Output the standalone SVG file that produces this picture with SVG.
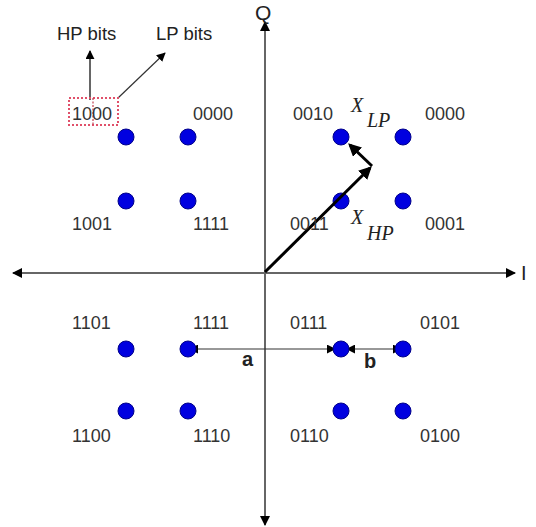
<svg xmlns="http://www.w3.org/2000/svg" width="536" height="527" viewBox="0 0 536 527">
<style>
.lbl{font-family:"Liberation Sans",Arial,sans-serif;font-size:18px;fill:#333}
.ttl{font-family:"Liberation Sans",Arial,sans-serif;font-size:18.5px;fill:#222}
.sym{font-family:"Liberation Serif","Times New Roman",serif;font-style:italic;font-size:20px;fill:#222}
.bold{font-family:"Liberation Sans",Arial,sans-serif;font-size:20px;font-weight:bold;fill:#222}
.dot{fill:#0000e0;stroke:#00008a;stroke-width:1}
.axis{stroke:#666;stroke-width:2;fill:none}
.thin{stroke:#333;stroke-width:1.2;fill:none}
.vec{stroke:#000;stroke-width:3;fill:none}
</style>
<defs>
<marker id="ah" viewBox="0 0 10 10" refX="9" refY="5" markerWidth="10" markerHeight="10" markerUnits="userSpaceOnUse" orient="auto-start-reverse"><path d="M0,0 L10,5 L0,10 z" fill="#000"/></marker>
<marker id="ahs" viewBox="0 0 10 10" refX="9" refY="5" markerWidth="9" markerHeight="9" markerUnits="userSpaceOnUse" orient="auto-start-reverse"><path d="M0,0 L10,5 L0,10 z" fill="#000"/></marker>
<marker id="ahv" viewBox="0 0 10 10" refX="8" refY="5" markerWidth="13" markerHeight="13" markerUnits="userSpaceOnUse" orient="auto"><path d="M0,0 L10,5 L0,10 z" fill="#000"/></marker>
</defs>
<rect width="536" height="527" fill="#fff"/>
<g id="connectors">
<line class="axis" x1="13" y1="273" x2="515" y2="273" marker-start="url(#ah)" marker-end="url(#ah)"/>
<line class="axis" x1="265" y1="22" x2="265" y2="525" marker-start="url(#ah)" marker-end="url(#ah)"/>
<line class="axis" x1="90" y1="100" x2="90" y2="51" marker-end="url(#ahs)"/>
<line class="thin" x1="118" y1="98" x2="165" y2="53" marker-end="url(#ahs)"/>
<line class="thin" x1="190" y1="349" x2="335" y2="349" marker-start="url(#ahs)" marker-end="url(#ahs)"/>
<line class="thin" x1="347" y1="349" x2="401" y2="349" marker-start="url(#ahs)" marker-end="url(#ahs)"/>
</g>
<g id="dots">
<circle class="dot" cx="126" cy="137" r="8"/><circle class="dot" cx="188" cy="137" r="8"/>
<circle class="dot" cx="341" cy="137" r="8"/><circle class="dot" cx="403" cy="137" r="8"/>
<circle class="dot" cx="126" cy="201" r="8"/><circle class="dot" cx="188" cy="201" r="8"/>
<circle class="dot" cx="341" cy="201" r="8"/><circle class="dot" cx="403" cy="201" r="8"/>
<circle class="dot" cx="126" cy="349" r="8"/><circle class="dot" cx="188" cy="349" r="8"/>
<circle class="dot" cx="341" cy="349" r="8"/><circle class="dot" cx="403" cy="349" r="8"/>
<circle class="dot" cx="126" cy="411" r="8"/><circle class="dot" cx="188" cy="411" r="8"/>
<circle class="dot" cx="341" cy="411" r="8"/><circle class="dot" cx="403" cy="411" r="8"/>
</g>
<g id="vectors">
<line class="vec" x1="265" y1="272" x2="370" y2="168" marker-end="url(#ahv)"/>
<line class="vec" x1="372" y1="166" x2="350" y2="145" marker-end="url(#ahv)"/>
</g>
<g id="box">
<rect x="69" y="98" width="49" height="27" fill="none" stroke="#e0506a" stroke-width="2" stroke-dasharray="2,2"/>
<line x1="93" y1="98" x2="93" y2="125" stroke="#c04050" stroke-width="1.2" stroke-dasharray="2,1.5"/>
</g>
<g id="labels">
<text class="ttl" x="57" y="40">HP bits</text>
<text class="ttl" x="156" y="40">LP bits</text>
<text class="ttl" x="255" y="20" style="font-size:21px">Q</text>
<text class="ttl" x="521" y="280" style="font-size:20px">I</text>
<text class="lbl" x="72" y="120">1000</text>
<text class="lbl" x="193" y="120">0000</text>
<text class="lbl" x="72" y="230">1001</text>
<text class="lbl" x="193" y="230">1111</text>
<text class="lbl" x="293" y="120">0010</text>
<text class="lbl" x="425" y="120">0000</text>
<text class="lbl" x="290" y="230">0011</text>
<text class="lbl" x="425" y="230">0001</text>
<text class="lbl" x="72" y="329">1101</text>
<text class="lbl" x="193" y="329">1111</text>
<text class="lbl" x="290" y="329">0111</text>
<text class="lbl" x="420" y="329">0101</text>
<text class="lbl" x="72" y="442">1100</text>
<text class="lbl" x="193" y="442">1110</text>
<text class="lbl" x="290" y="442">0110</text>
<text class="lbl" x="420" y="442">0100</text>
<text class="bold" x="242" y="366">a</text>
<text class="bold" x="364" y="368">b</text>
<text class="sym" x="351" y="112">X</text>
<text class="sym" x="367" y="127">LP</text>
<text class="sym" x="351" y="224">X</text>
<text class="sym" x="367" y="240">HP</text>
</g>
</svg>
